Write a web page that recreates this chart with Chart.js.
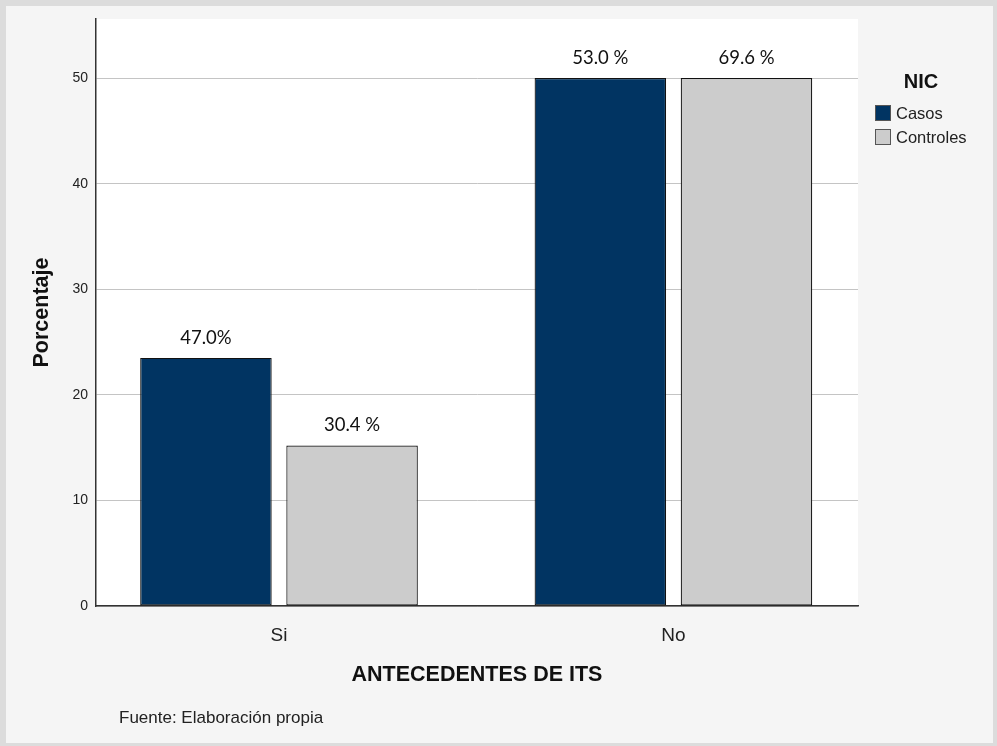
<!DOCTYPE html>
<html>
<head>
<meta charset="utf-8">
<script src="https://cdn.jsdelivr.net/npm/chart.js@4.4.1/dist/chart.umd.min.js"></script>
<style>
  html, body { margin: 0; padding: 0; background: #f5f5f5; }
</style>
</head>
<body>
<canvas id="chart" width="997" height="746"></canvas>
<script>
// data
const categories = ['Si', 'No'];
const seriesNames = ['Casos', 'Controles'];
const casos = [23.5, 50];
const controles = [15.2, 50];
const casosLabels = ['47.0%', '53.0 %'];
const controlesLabels = ['30.4 %', '69.6 %'];
const yTicks = [0, 10, 20, 30, 40, 50];

const colors = ['#013462', '#cccccc'];
const sans = '"Liberation Sans", Arial, sans-serif';

// frame, white plot area, titles, legend and bar labels
const decor = {
    id: 'decor',
    beforeDraw(chart) {
        const {ctx, chartArea: a} = chart;
        ctx.save();
        ctx.fillStyle = '#dcdcdc';
        ctx.fillRect(0, 0, chart.width, chart.height);
        ctx.fillStyle = '#f5f5f5';
        ctx.fillRect(6, 6, 987, 737);
        ctx.fillStyle = '#ffffff';
        ctx.fillRect(a.left, a.top, a.right - a.left, a.bottom - a.top);
        ctx.restore();
    },
    afterDatasetsDraw(chart) {
        const ctx = chart.ctx;
        const labels = [casosLabels, controlesLabels];
        ctx.save();
        ctx.fillStyle = '#111';
        ctx.font = '18.5px Lato, "Open Sans", sans-serif';
        ctx.textAlign = 'center';
        ctx.textBaseline = 'middle';
        chart.data.datasets.forEach((ds, i) => {
            chart.getDatasetMeta(i).data.forEach((bar, j) => {
                ctx.fillText(labels[i][j], bar.x, bar.y - 20);
            });
        });
        ctx.restore();
    },
    afterDraw(chart) {
        const {ctx, chartArea: a} = chart;
        ctx.save();
        ctx.fillStyle = '#111';
        ctx.textBaseline = 'middle';

        // axis titles
        ctx.font = 'bold 21.5px ' + sans;
        ctx.textAlign = 'center';
        ctx.fillText('ANTECEDENTES DE ITS', (a.left + a.right) / 2, 675);
        ctx.save();
        ctx.translate(42, (a.top + a.bottom) / 2);
        ctx.rotate(-Math.PI / 2);
        ctx.fillText('Porcentaje', 0, 0);
        ctx.restore();

        // source note
        ctx.font = '17px ' + sans;
        ctx.textAlign = 'left';
        ctx.fillStyle = '#222';
        ctx.fillText('Fuente: Elaboración propia', 119, 718);

        // legend
        ctx.fillStyle = '#111';
        ctx.font = 'bold 20px ' + sans;
        ctx.textAlign = 'center';
        ctx.fillText('NIC', 921, 82);
        ctx.font = '16.5px ' + sans;
        ctx.textAlign = 'left';
        seriesNames.forEach((name, i) => {
            const y = 105 + i * 24;
            ctx.fillStyle = colors[i];
            ctx.fillRect(875, y, 16, 16);
            ctx.strokeStyle = '#555';
            ctx.lineWidth = 1;
            ctx.strokeRect(875.5, y + 0.5, 15, 15);
            ctx.fillStyle = '#222';
            ctx.fillText(name, 896, y + 9);
        });
        ctx.restore();
    }
};

const toPoints = vals => vals.map((v, i) => ({x: i, y: v}));

new Chart(document.getElementById('chart'), {
    type: 'bar',
    data: {
        datasets: [
            {
                label: seriesNames[0],
                data: toPoints(casos),
                backgroundColor: colors[0],
                borderColor: '#111',
                borderWidth: 1.2,
                borderSkipped: false
            },
            {
                label: seriesNames[1],
                data: toPoints(controles),
                backgroundColor: colors[1],
                borderColor: '#111',
                borderWidth: 1.2,
                borderSkipped: false
            }
        ]
    },
    options: {
        responsive: false,
        animation: false,
        devicePixelRatio: 1,
        categoryPercentage: 0.741,
        barPercentage: 0.9,
        layout: {
            padding: {left: 0, top: 19, right: 139, bottom: 100}
        },
        plugins: {
            legend: {display: false},
            tooltip: {enabled: false}
        },
        scales: {
            x: {
                type: 'linear',
                offset: false,
                min: -0.464,
                max: 1.468,
                afterBuildTicks: s => { s.ticks = categories.map((c, i) => ({value: i})); },
                afterFit: s => { s.height = 40; },
                grid: {display: false},
                border: {display: true, color: '#333', width: 1.5},
                ticks: {
                    padding: 10,
                    color: '#222',
                    font: {family: sans, size: 19},
                    callback: v => categories[v]
                }
            },
            y: {
                min: 0,
                max: 55.6,
                afterBuildTicks: s => { s.ticks = yTicks.map(v => ({value: v})); },
                afterFit: s => { s.width = 96; },
                grid: {color: '#c4c4c4', lineWidth: 1, drawTicks: false},
                border: {display: true, color: '#333', width: 1.5},
                ticks: {
                    padding: 8,
                    color: '#222',
                    font: {family: sans, size: 14}
                }
            }
        }
    },
    plugins: [decor]
});
</script>
</body>
</html>
